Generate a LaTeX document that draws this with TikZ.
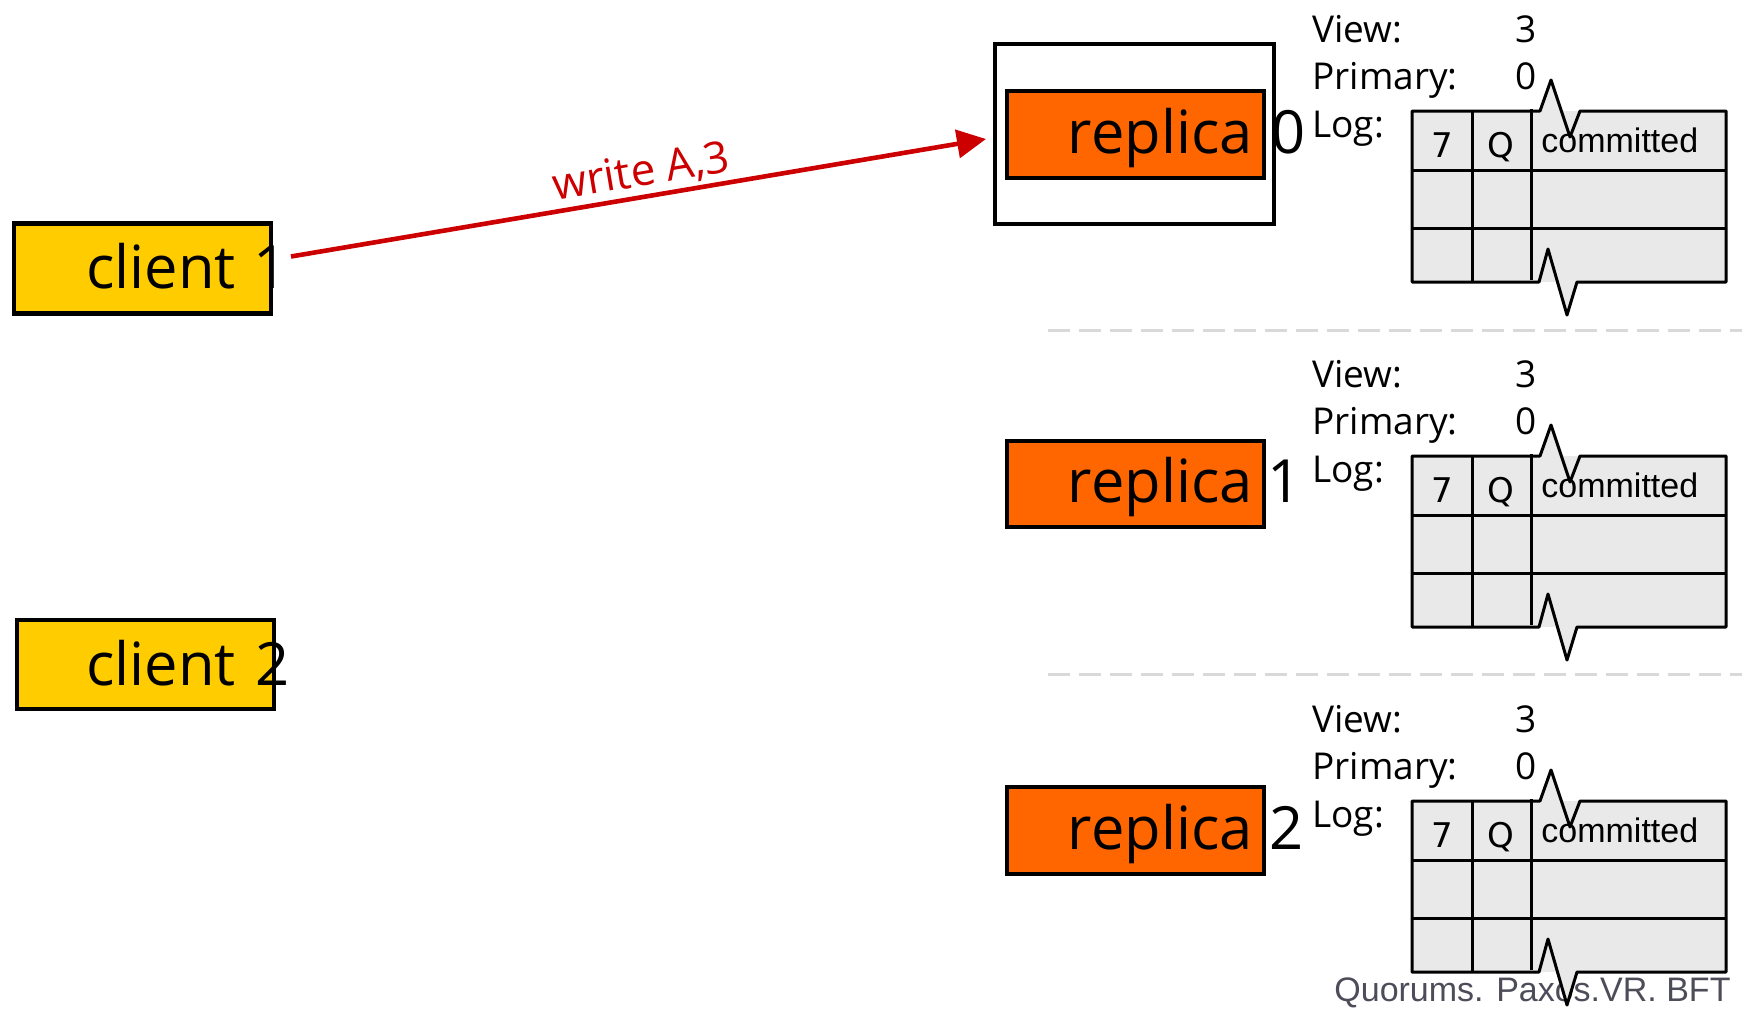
\documentclass[tikz,border=0pt]{standalone}
\usepackage{fontspec}
\setmainfont{Open Sans}
\newfontfamily\arialf{Liberation Sans}
\newfontfamily\dejavuf{DejaVu Sans}
\usetikzlibrary{arrows.meta,calc}
\definecolor{clientyellow}{HTML}{FFCC00}
\definecolor{replicaorange}{HTML}{FF6600}
\definecolor{msgred}{HTML}{CC0000}
\definecolor{loggray}{HTML}{E9E9E9}
\definecolor{sepgray}{HTML}{D9D9D9}
\definecolor{footgray}{HTML}{4D4D5A}
\tikzset{
 boxbase/.style={draw=black, line width=2.2pt, inner sep=0pt, outer sep=0pt, minimum width=128.5pt},
 clientbox/.style={boxbase, fill=clientyellow, minimum height=45pt},
 replicabox/.style={boxbase, fill=replicaorange, minimum height=43.25pt},
 bigtext/.style={inner sep=0pt, font=\fontsize{29.8}{35}\selectfont},
 infotext/.style={inner sep=0pt, anchor=base west, font=\fontsize{18.5}{22}\selectfont},
 cellnum/.style={inner sep=0pt, anchor=base, font=\dejavuf\fontsize{17}{20}\selectfont},
 celltext/.style={inner sep=0pt, anchor=base west, font=\arialf\fontsize{17}{20}\selectfont},
 logline/.style={line width=1.5pt, line join=round},
 sepline/.style={draw=sepgray, line width=1.5pt, dash pattern=on 11pt off 4.5pt},
 msgarrow/.style={draw=msgred, line width=2.3pt, -{Triangle[length=14.5pt,width=14pt]}},
 msglabel/.style={text=msgred, inner sep=1.5pt, font=\fontsize{22}{26}\selectfont, sloped, above}
}
\newcommand\replicainfo[2]{%
 \begin{scope}[shift={(0,#2)}]
  \node[infotext] (v#1) at (1312,42) {View:};
  \node[infotext] (vv#1) at (1515,42) {3};
  \node[infotext] (p#1) at (1312,89) {Primary:};
  \node[infotext] (pv#1) at (1515,89) {0};
  \node[infotext] (l#1) at (1312,137) {Log:};
  \fill[loggray] (1412,111) rectangle (1726,282);
  \fill[loggray] (1540,111) -- (1551,80) -- (1562,111) -- cycle;
  \fill[loggray] (1577,282) -- (1567,315) -- (1557,282) -- cycle;
  \draw[logline] (1412,170) -- (1726,170);
  \draw[logline] (1412,228) -- (1726,228);
  \draw[logline] (1472,111) -- (1472,282);
  \draw[logline] (1531,109) -- (1531,280);
  \draw[logline] (1412,111) -- (1540,111) -- (1551,80) -- (1570,137) -- (1580,111)
     -- (1726,111) -- (1726,282) -- (1577,282) -- (1567,315) -- (1548,249)
     -- (1539,282) -- (1412,282) -- cycle;
  \node[cellnum] (seven#1) at (1442,157) {7};
  \node[cellnum] (q#1) at (1501,157) {Q};
  \node[celltext] (com#1) at (1541,152) {committed};
 \end{scope}}
\begin{document}
\begin{tikzpicture}[x=0.5pt,y=-0.5pt]
\useasboundingbox (0,0) rectangle (1742,1008);
\fill[white] (0,0) rectangle (1742,1008);
% separators
\draw[sepline] (1048,330) -- (1742,330);
\draw[sepline] (1048,674) -- (1742,674);
% footer
\node[inner sep=0pt, anchor=base west, text=footgray, font=\arialf\fontsize{17}{20}\selectfont] (footer) at (1334,1001) {Quorums. Paxos.VR. BFT};
% clients
\node[clientbox] (c1) at (142.5,268.5) {};
\node[bigtext, anchor=base west] (c1t) at (86,288) {client};
\node[bigtext, anchor=base] (c1n) at (271,288) {1};
\node[clientbox, minimum height=44.5pt] (c2) at (145.5,664.5) {};
\node[bigtext, anchor=base west] (c2t) at (86,685) {client};
\node[bigtext, anchor=base] (c2n) at (273,685) {2};
% replicas
\node[draw, line width=2.2pt, inner sep=0pt, outer sep=0pt, minimum width=139.5pt, minimum height=90pt] (r0out) at (1134.5,134) {};
\node[replicabox] (r0) at (1135.5,134.5) {};
\node[bigtext, anchor=base west] (r0t) at (1067.5,153) {replica};
\node[bigtext, anchor=base] (r0n) at (1289,153) {0};
\node[replicabox] (r1) at (1135.5,484) {};
\node[bigtext, anchor=base west] (r1t) at (1067.5,502) {replica};
\node[bigtext, anchor=base] (r1n) at (1285,502) {1};
\node[replicabox] (r2) at (1135.5,830.5) {};
\node[bigtext, anchor=base west] (r2t) at (1067.5,849) {replica};
\node[bigtext, anchor=base] (r2n) at (1287,849) {2};
% state blocks
\replicainfo{0}{0}
\replicainfo{1}{345}
\replicainfo{2}{690}
% message
\draw[msgarrow] ($(c1.east)+(20,-12)$) -- node[msglabel, pos=0.51] (lbl) {write A,3} ($(r0out.west)+(-9,5)$);
\end{tikzpicture}
\end{document}
